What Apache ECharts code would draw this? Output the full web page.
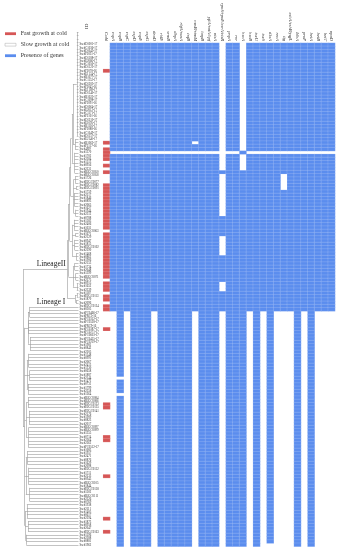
<!DOCTYPE html>
<html><head><meta charset="utf-8">
<script src="https://cdn.jsdelivr.net/npm/echarts@6/dist/echarts.min.js"></script>
<style>html,body{margin:0;padding:0;background:#fff}#c{width:339px;height:550px}</style>
</head><body><div id="c"></div>
<script>
// ---------- DATA ----------
const strainIds = (`
SsedD1001-17 SsedC1036-17 SsedD1043-17 SsedF2031-17 SsedD1188-17 SsedE2066-17 SsedC1050-17 SsedD1122-17
SsedF2078-16 SsedE1134-17 SsedB1077-17 SsedC1152-17 SsedD1203-17 SsedF2045-16 SsedE1189-17 SsedD1140-17
SsedB1023-17 SsedC1098-17 SsedF2091-16 SsedD1064-17 SsedE2012-17 SsedC1171-17 SsedF2101-16 SsedD1210-17
SsedE1095-17 SsedB1116-17 SsedF2088-16 SsedC1049-17 SsedD1157-17 SsedE2140-17 SsedB1062-17 SsedF2117-16
Ssed4J09 Ssed1370 Ssed1702 Ssed2384 Ssed1513 Ssed0956 Ssed2231 SsedBJGC0050 SsedBJGC0058 Ssed1726
SsedHJGC0077 SsedHJGC0082 SsedHJGC0091 Ssed1759 Ssed2217 Ssed1846 Ssed0893 Ssed2065 Ssed1627 Ssed1944
Ssed2312 Ssed0788 Ssed1583 Ssed2406 Ssed1031 SsedBJGC0063 Ssed1671 Ssed2129 Ssed0947 Ssed1815
SsedHJGC0102 Ssed2290 Ssed1468 Ssed0862 Ssed1906 Ssed2153 Ssed1734 Ssed2048 Ssed1399 SsedBJGC0071
Ssed2275 Ssed0915 Ssed1652 Ssed2339 Ssed1187 SsedHJGC0113 Ssed1870 Ssed2096 SsedHJGC0124 Ssed0305
SsedFC0466-17 SsedPRC5-16 SsedFC0312-17 SsedFC0528-17 SsedPRC9-16 SsedFC0387-17 SsedFC0271-17 SsedFC0603-17
SsedFC0455-17 SsedFC0219-17 Ssed1981 Ssed0842 Ssed2205 Ssed1548 Ssed0991 Ssed2067 Ssed2413 Ssed1330
Ssed0658 Ssed1887 Ssed2144 Ssed1472 Ssed0731 Ssed1799 Ssed2358 Ssed1264 SsedBJGC0084 SsedBJGC0086
SsedHJGC0133 SsedHJGC0135 SsedHJGC0141 Ssed2176 Ssed1909 Ssed0823 Ssed2017 SsedBJGC0097 SsedBJGC0099 Ssed1355
Ssed0714 Ssed2364 Ssed2262 SsedFC0512-17 Ssed1083 Ssed1957 Ssed2471 Ssed0876 Ssed1629 Ssed2098
SsedHJGC0152 Ssed1711 Ssed2233 Ssed0945 SsedBJGC0105 Ssed1844 SsedHJGC0158 Ssed1502 SsedBJGC0111 Ssed2326
Ssed0769 Ssed1938 Ssed2111 Ssed1405 Ssed0617 Ssed2294 Ssed1873 Ssed0958 Ssed2047 SsedHJGC0163
Ssed1596 Ssed2388 Ssed0881 Ssed1962
`).trim().split(/\s+/);

const coldColumn = 'Cold';
const geneNames = ['cspA','cspB','cspC','cspD','cspE','cspG','deaD','rhlE','srmB','dbpA',
  'rbfA/nusA','infB','nusB/rimM','hupB','yfiA/raiA/hpf','otsA','rpoS/rpoE/csrA/ctsR','pnpA','rnr','hscA',
  'hscB','iscU','iscS','dksA','recA','tig','cshA/cshB/yqfL','ldhA','proP','betA',
  'betB','betT','opuD'];

// rows (inclusive ranges) with fast growth at cold
const fastGrowthRows = [[8,8],[30,30],[32,35],[37,37],[39,39],[43,56],[58,71],[73,75],
  [77,78],[80,81],[87,87],[110,111],[120,121],[132,132],[145,145],[149,149]];

// presence of each gene: inclusive row ranges, one entry per gene column
const genePresenceRuns = [
  [[0,32],[34,81]],
  [[0,32],[34,101],[103,106],[108,153]],
  [[0,32],[34,81]],
  [[0,32],[34,153]],
  [[0,32],[34,153]],
  [[0,32],[34,153]],
  [[0,32],[34,81]],
  [[0,32],[34,153]],
  [[0,32],[34,153]],
  [[0,32],[34,153]],
  [[0,32],[34,153]],
  [[0,32],[34,153]],
  [[0,29],[31,32],[34,81]],
  [[0,32],[34,153]],
  [[0,32],[34,153]],
  [[0,32],[34,153]],
  [[39,39],[53,58],[65,72],[76,81]],
  [[0,32],[34,153]],
  [[0,32],[34,153]],
  [[33,33],[39,153]],
  [[0,32],[34,81]],
  [[0,32],[34,153]],
  [[0,32],[34,81]],
  [[0,32],[34,152]],
  [[0,32],[34,81]],
  [[0,32],[34,39],[45,81]],
  [[0,32],[34,81]],
  [[0,32],[34,153]],
  [[0,32],[34,81]],
  [[0,32],[34,153]],
  [[0,32],[34,81]],
  [[0,32],[34,81]],
  [[0,32],[34,81]]
];

// tree: internal node = [depth, ...children]; tip = row index (tips sit at depth 100)
const span = (a, b) => Array.from({length: b - a + 1}, (_, i) => a + i);
const lineageII = [80,
  [82,
    [84,
      [86,
        [88,
          [90, [97, ...span(0,31)], [94, ...span(32,35)]],
          [93, ...span(36,42)]
        ],
        [91, [94,43,44,45], [96,46,47], [93,48,49,50,51,52], [95,53,54,55]]
      ],
      [89, [92,56,57,58,59], [95,60,61], [93,62,63,64,65], [96,66,67,68]]
    ],
    [90, [93,69,70,71], [95,72,73,74], [97,75,76,77]]
  ],
  [94, [97,78,79], [96,80,81]]
];
const lineageI = [3,
  [9, [12, ...span(82,85)], [10, ...span(86,90)], [13, ...span(91,95)]],
  [7, [10, ...span(96,100)], [12, ...span(101,104)], [9, ...span(105,108)]],
  [6, [9, ...span(109,112)], [11, ...span(113,117)], [10, ...span(118,124)]],
  [5, [8, ...span(125,129)], [10, ...span(130,135)], [12, ...span(136,140)]],
  [4, [7, ...span(141,145)], [9, ...span(146,149)], [6, ...span(150,153)]]
];
const tree = [0, lineageII, lineageI];
const branchLabels = new Map([[lineageII, {text: 'LineageII', dx: 6}], [82, {text: 'Lineage I', dx: -3}]]);

const legendItems = ['Fast growth at cold', 'Slow growth at cold', 'Presence of genes'];

// ---------- BUILD ----------
const BLUE = '#5b8dee', RED = '#d65656';
const N = strainIds.length;
const xCats = [coldColumn, ...geneNames];

const heat = [];
fastGrowthRows.forEach(([a, b]) => { for (let r = a; r <= b; r++) heat.push([0, r, 2]); });
genePresenceRuns.forEach((runs, g) => runs.forEach(([a, b]) => {
  for (let r = a; r <= b; r++) heat.push([g + 1, r, 1]);
}));

const lineData = [];
const labelStyle = lab => ({show: true, position: 'middle', formatter: lab.text, distance: 1,
  fontSize: 7.5, fontFamily: 'Liberation Serif', color: '#222', offset: [lab.dx, 0]});
function layout(node) {
  if (typeof node === 'number') return {d: 100, y: node};
  const d = node[0];
  const kidsSrc = node.slice(1);
  const kids = kidsSrc.map(layout);
  const y0 = kids[0].y, y1 = kids[kids.length - 1].y;
  lineData.push({coords: [[d, y0], [d, y1]]});
  kids.forEach((k, i) => {
    const item = {coords: [[d, k.y], [k.d, k.y]]};
    const lab = branchLabels.get(kidsSrc[i]);
    if (lab) item.label = labelStyle(lab);
    lineData.push(item);
  });
  return {d, y: (y0 + y1) / 2};
}
layout(tree);

const TOP = 30.5, H = 516;
const chart = echarts.init(document.getElementById('c'), null, {renderer: 'canvas'});
chart.setOption({
  animation: false,
  backgroundColor: '#fff',
  grid: [
    {left: 103.2, width: 231.8, top: TOP, height: H},
    {left: 23, width: 55.5, top: TOP, height: H}
  ],
  xAxis: [
    {type: 'category', gridIndex: 0, data: xCats, position: 'top',
      axisLine: {show: false}, axisTick: {show: false}, splitLine: {show: false},
      axisLabel: {rotate: 90, interval: 0, fontSize: 4.6, margin: 2, color: '#333',
        fontFamily: 'Liberation Serif', fontStyle: 'italic'}},
    {type: 'value', gridIndex: 1, min: 0, max: 100, show: false}
  ],
  yAxis: [
    {type: 'category', gridIndex: 0, data: strainIds, inverse: true,
      axisLine: {show: false}, axisTick: {show: false}, splitLine: {show: false},
      axisLabel: {interval: 0, fontSize: 3, align: 'left', margin: 23.7, color: '#333',
        fontFamily: 'Liberation Serif'}},
    {type: 'value', gridIndex: 1, min: -0.5, max: N - 0.5, inverse: true, show: false}
  ],
  visualMap: {type: 'piecewise', show: false, seriesIndex: 0, dimension: 2,
    pieces: [{value: 1, color: BLUE}, {value: 2, color: RED}]},
  series: [
    {type: 'heatmap', xAxisIndex: 0, yAxisIndex: 0, data: heat, progressive: 0,
      itemStyle: {borderColor: 'rgba(255,255,255,0.35)', borderWidth: 0.4}},
    {type: 'lines', coordinateSystem: 'cartesian2d', xAxisIndex: 1, yAxisIndex: 1,
      data: lineData, silent: true,
      lineStyle: {color: '#9a9a9a', width: 0.6, opacity: 1, curveness: 0}}
  ],
  graphic: [
    {type: 'rect', shape: {x: 5, y: 32.3, width: 11, height: 2.8}, style: {fill: RED}},
    {type: 'rect', shape: {x: 5, y: 43.3, width: 11, height: 2.8}, style: {fill: '#fff', stroke: '#aaa', lineWidth: 0.5}},
    {type: 'rect', shape: {x: 5, y: 54.3, width: 11, height: 2.8}, style: {fill: BLUE}},
    ...legendItems.map((t, i) => ({type: 'text', x: 20.7, y: 33.8 + i * 11,
      style: {text: t, font: '6px "Liberation Serif"', fill: '#333',
        textVerticalAlign: 'middle', verticalAlign: 'middle'}})),
    {type: 'text', x: 84.5, y: 29, rotation: Math.PI / 2,
      style: {text: 'ID', font: '5px "Liberation Serif"', fill: '#333'}}
  ]
});
</script></body></html>
